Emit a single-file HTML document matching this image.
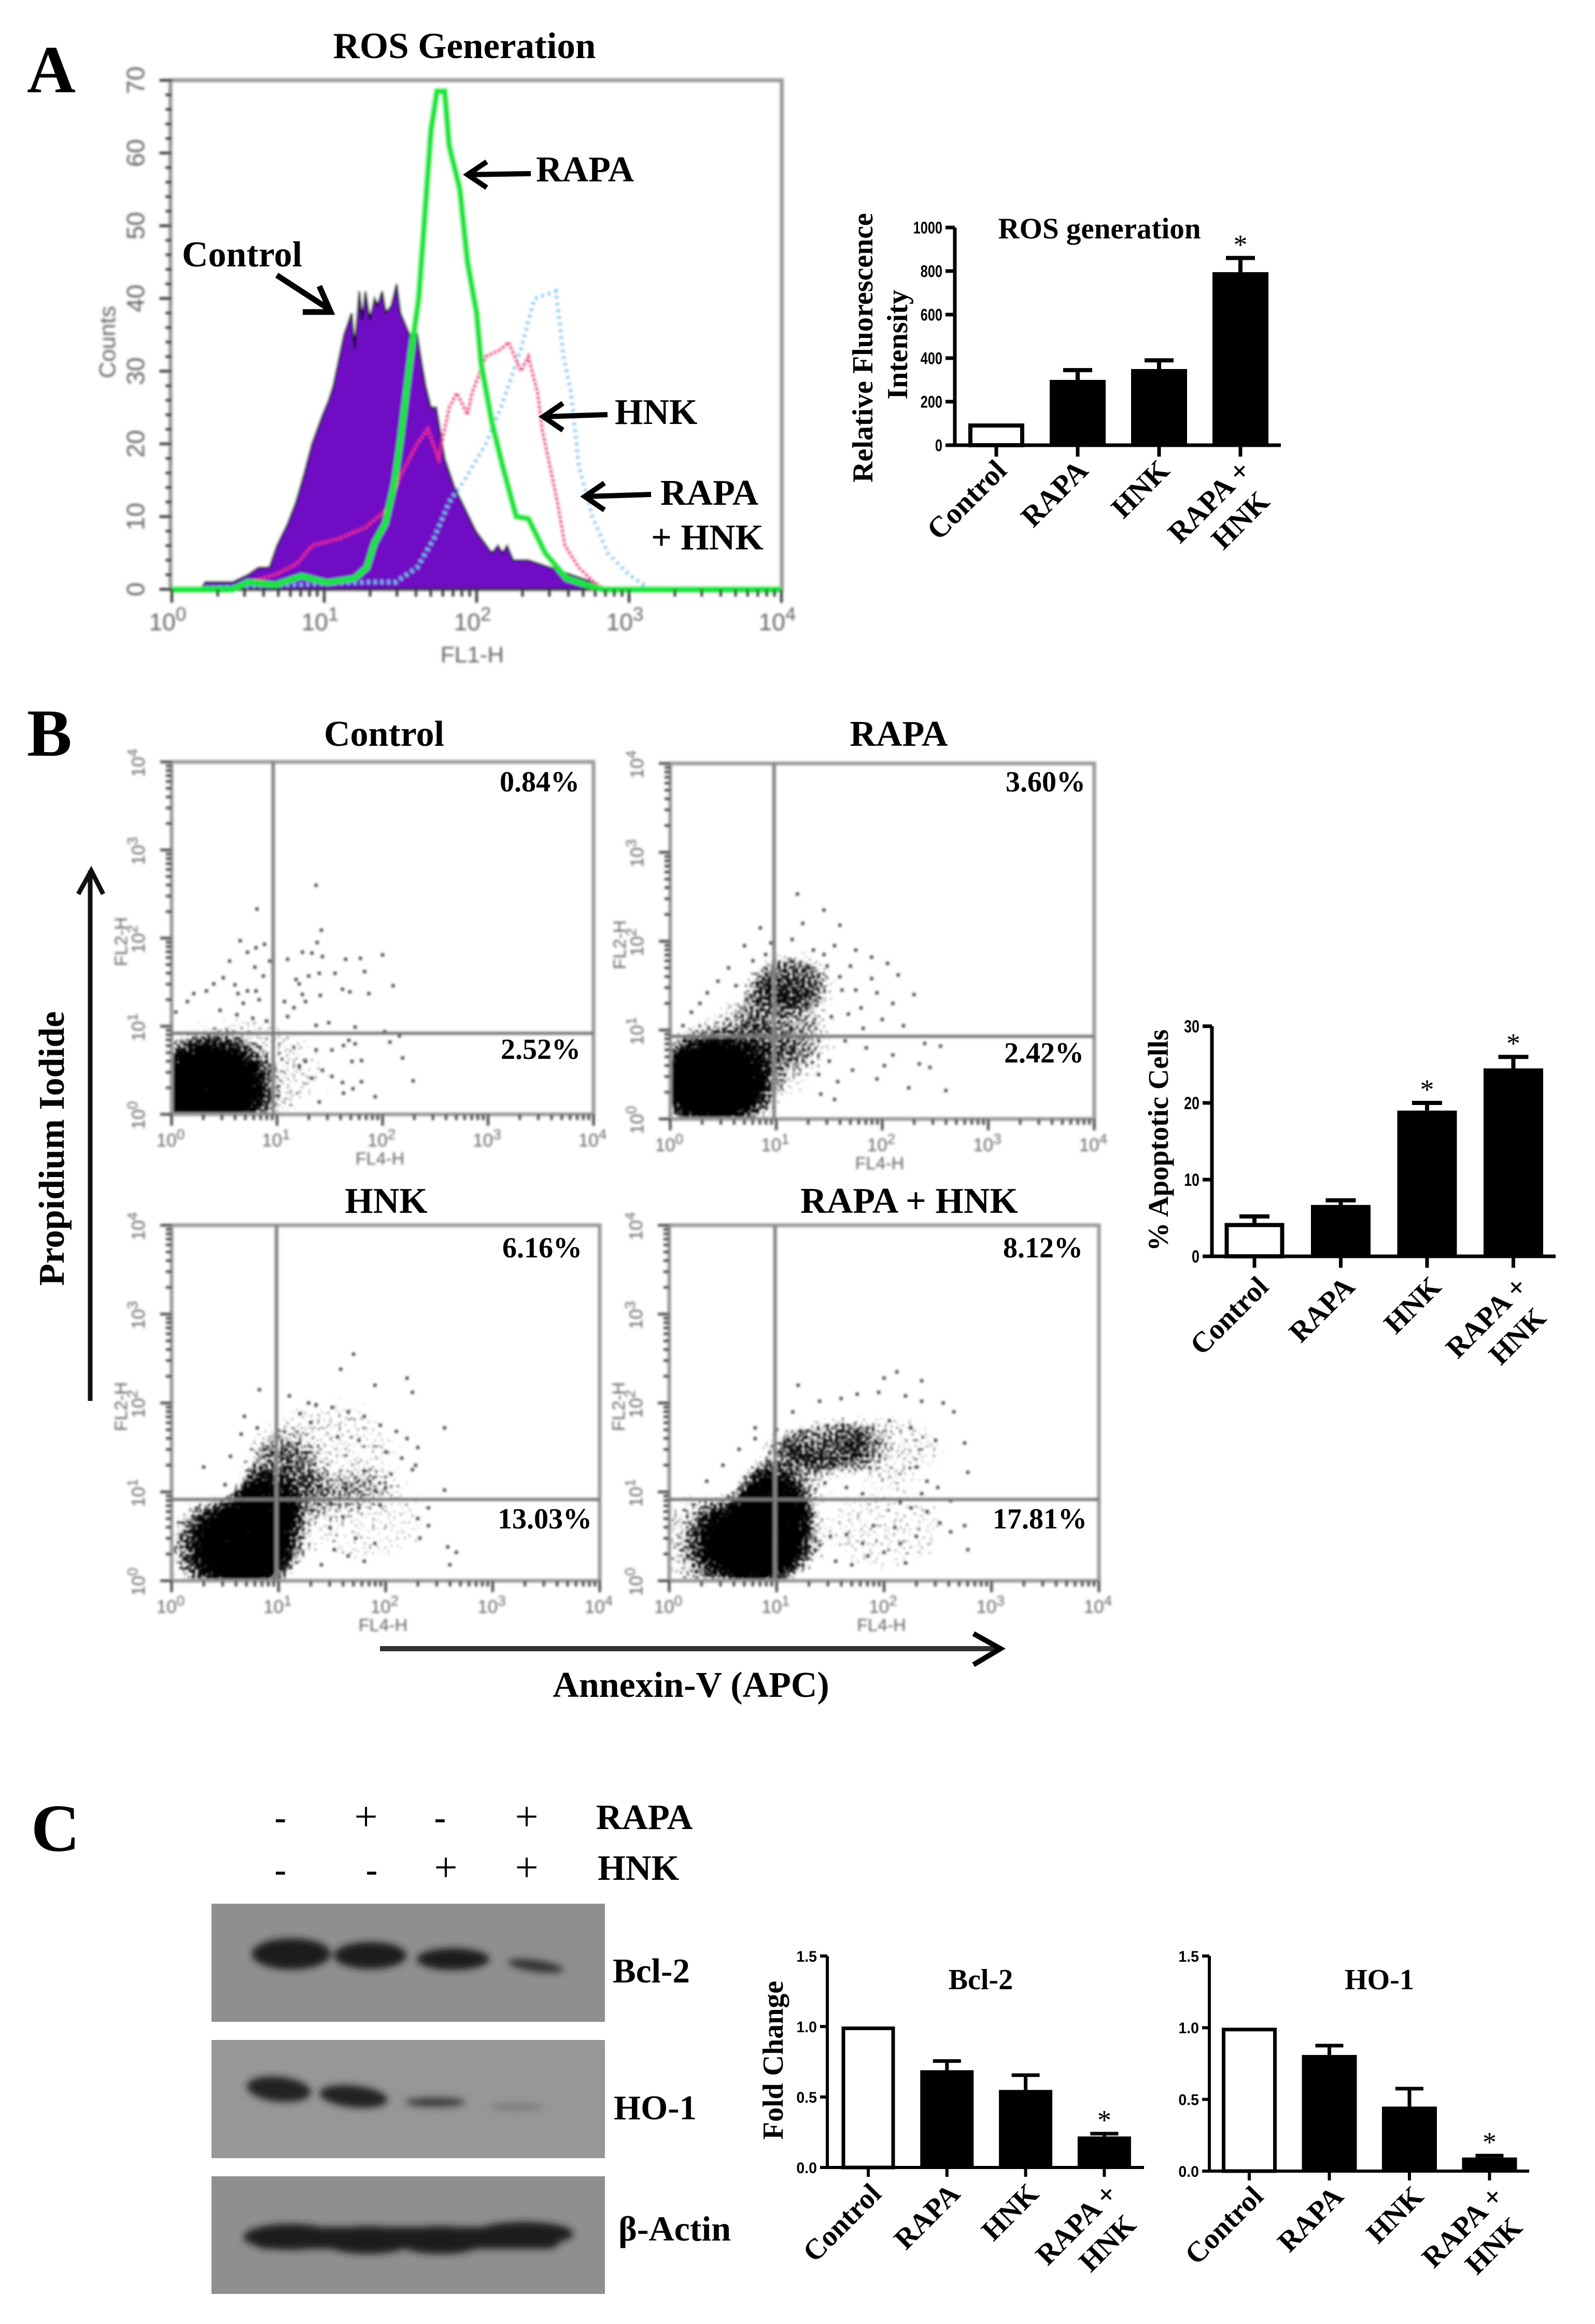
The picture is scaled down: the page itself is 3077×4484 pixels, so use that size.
<!DOCTYPE html>
<html lang="en">
<head>
<meta charset="utf-8">
<title>ROS generation, apoptosis and Bcl-2 / HO-1 expression</title>
<style>
html,body{margin:0;padding:0;background:#fff;}
svg{display:block;}
text{font-family:"Liberation Serif",serif;font-weight:bold;fill:#000;}
.sans{font-family:"Liberation Sans",sans-serif;}
.flowtick{font-family:"Liberation Sans",sans-serif;font-weight:normal;fill:#626262;}
</style>
</head>
<body>
<svg id="figure" xmlns="http://www.w3.org/2000/svg" width="3077" height="4484" viewBox="0 0 3077 4484">
<defs>
<filter id="soft" filterUnits="userSpaceOnUse" x="0" y="0" width="3077" height="4484"><feGaussianBlur stdDeviation="2.4"/></filter>
<filter id="bandblur" filterUnits="userSpaceOnUse" x="0" y="3600" width="1300" height="884"><feGaussianBlur stdDeviation="7"/></filter>
<filter id="speckle" color-interpolation-filters="sRGB">
<feTurbulence type="fractalNoise" baseFrequency="0.17" numOctaves="1" seed="4" result="n"/>
<feComposite in="SourceGraphic" in2="n" operator="arithmetic" k1="0" k2="4" k3="4" k4="-4" result="a"/>
<feFlood flood-color="#000" result="f"/>
<feComposite in="f" in2="a" operator="in"/>
</filter>
<radialGradient id="cloud"><stop offset="0" stop-color="#000" stop-opacity="1"/><stop offset="0.5" stop-color="#000" stop-opacity="1"/><stop offset="1" stop-color="#000" stop-opacity="0"/></radialGradient>
</defs>
<rect width="3077" height="4484" fill="#fff"/>

<!-- Panel letters -->
<text x="52" y="178" font-size="130">A</text>
<text x="52" y="1458" font-size="130">B</text>
<text x="60" y="3571" font-size="130">C</text>

<!-- Panel A -->
<text x="896" y="112" font-size="71" text-anchor="middle">ROS Generation</text>
<g id="histogram"></g>
<g transform="translate(-6 -4)">
<text x="357" y="518" font-size="70">Control</text>
<path d="M540 535 L640 600 M590 606 L644 606 L622 556" fill="none" stroke="#000" stroke-width="11"/>
<text x="1040" y="354" font-size="70">RAPA</text>
<path d="M1030 339 L910 341 M945 316 L908 341 L945 366" fill="none" stroke="#000" stroke-width="10"/>
<text x="1192" y="822" font-size="70">HNK</text>
<path d="M1178 804 L1056 808 M1092 782 L1054 808 L1092 834" fill="none" stroke="#000" stroke-width="10"/>
<text x="1280" y="978" font-size="70">RAPA</text>
<text x="1262" y="1064" font-size="70">+ HNK</text>
<path d="M1262 958 L1136 962 M1172 936 L1134 962 L1172 988" fill="none" stroke="#000" stroke-width="10"/>
</g>
<g id="ros-bars"></g>
<text x="2121" y="460" font-size="57" text-anchor="middle">ROS generation</text>
<text transform="translate(1683 671) rotate(-90)" font-size="56" text-anchor="middle">Relative Fluorescence</text>
<text transform="translate(1750 665) rotate(-90)" font-size="56" text-anchor="middle">Intensity</text>

<!-- Panel B -->
<text x="741" y="1439" font-size="70" text-anchor="middle">Control</text>
<text x="1734" y="1439" font-size="70" text-anchor="middle">RAPA</text>
<text x="745" y="2340" font-size="70" text-anchor="middle">HNK</text>
<text x="1754" y="2340" font-size="70" text-anchor="middle">RAPA + HNK</text>
<g id="dotplots"></g>
<text x="964" y="1527" font-size="56">0.84%</text>
<text x="966" y="2043" font-size="56">2.52%</text>
<text x="1940" y="1527" font-size="56">3.60%</text>
<text x="1937" y="2050" font-size="56">2.42%</text>
<text x="969" y="2426" font-size="56">6.16%</text>
<text x="960" y="2949" font-size="56">13.03%</text>
<text x="1935" y="2426" font-size="56">8.12%</text>
<text x="1915" y="2949" font-size="56">17.81%</text>
<text transform="translate(123 2216) rotate(-90)" font-size="70" text-anchor="middle">Propidium Iodide</text>
<path d="M174 2703 L174 1680 M151 1725 L176 1680 L199 1725" fill="none" stroke="#111" stroke-width="9"/>
<path d="M733 3181 L1922 3181" fill="none" stroke="#333" stroke-width="10"/>
<path d="M1878 3152 L1930 3181 L1878 3212" fill="none" stroke="#000" stroke-width="10"/>
<text x="1333" y="3274" font-size="70" text-anchor="middle">Annexin-V (APC)</text>
<g id="apoptosis-bars"></g>
<text transform="translate(2253 2200) rotate(-90)" font-size="55" text-anchor="middle">% Apoptotic Cells</text>

<!-- Panel C blots -->
<g font-size="68">
<text x="541" y="3529" text-anchor="middle">-</text>
<text style="font-weight:normal;font-size:80px" x="706" y="3532" text-anchor="middle">+</text>
<text x="849" y="3529" text-anchor="middle">-</text>
<text style="font-weight:normal;font-size:80px" x="1016" y="3532" text-anchor="middle">+</text>
<text x="541" y="3630" text-anchor="middle">-</text>
<text x="717" y="3630" text-anchor="middle">-</text>
<text style="font-weight:normal;font-size:80px" x="860" y="3630" text-anchor="middle">+</text>
<text style="font-weight:normal;font-size:80px" x="1016" y="3630" text-anchor="middle">+</text>
<text x="1150" y="3529" style="font-size:69px">RAPA</text>
<text x="1153" y="3627" style="font-size:69px">HNK</text>
</g>
<g>
<rect x="408" y="3673" width="759" height="228" fill="#8f8f8f"/>
<g filter="url(#bandblur)" fill="#1d1d1d">
<ellipse cx="562" cy="3770" rx="76" ry="30"/>
<ellipse cx="714" cy="3773" rx="70" ry="26"/>
<ellipse cx="874" cy="3780" rx="70" ry="21"/>
<ellipse cx="1033" cy="3793" rx="54" ry="11" fill="#333" transform="rotate(8 1033 3793)"/>
</g>
<rect x="408" y="3936" width="759" height="228" fill="#979797"/>
<g filter="url(#bandblur)" fill="#222">
<ellipse cx="538" cy="4031" rx="62" ry="24" transform="rotate(6 538 4031)"/>
<ellipse cx="682" cy="4045" rx="66" ry="21" transform="rotate(6 682 4045)"/>
<ellipse cx="840" cy="4056" rx="58" ry="9" fill="#3a3a3a"/>
<ellipse cx="997" cy="4065" rx="52" ry="6" fill="#777"/>
</g>
<rect x="408" y="4199" width="759" height="227" fill="#8f8f8f"/>
<g filter="url(#bandblur)" fill="#1c1c1c">
<rect x="490" y="4297" width="590" height="42" rx="21"/>
<ellipse cx="560" cy="4316" rx="90" ry="25"/>
<ellipse cx="710" cy="4322" rx="88" ry="27"/>
<ellipse cx="850" cy="4322" rx="88" ry="27"/>
<ellipse cx="1010" cy="4310" rx="96" ry="23"/>
</g>
<text x="1182" y="3825" font-size="67">Bcl-2</text>
<text x="1184" y="4089" font-size="67">HO-1</text>
<text x="1193" y="4323" font-size="68" style="font-family:'Liberation Serif','DejaVu Serif',serif">β-Actin</text>
</g>
<g id="bcl2-bars"></g>
<g id="ho1-bars"></g>
<text x="1892" y="3838" font-size="56" text-anchor="middle">Bcl-2</text>
<text x="2661" y="3838" font-size="56" text-anchor="middle">HO-1</text>
<text transform="translate(1510 3975) rotate(-90)" font-size="56" text-anchor="middle">Fold Change</text>
</svg>

<script>
/* ---------- Panel A histogram data: log10(FL1-H) and counts ---------- */
const controlLogFl1 = [0,0.19,0.22,0.3,0.4,0.5,0.57,0.64,0.69,0.76,0.815,0.87,0.92,0.99,1.03,1.06,1.1,1.13,1.18,1.2,1.23,1.25,1.27,1.3,1.33,1.35,1.38,1.405,1.44,1.475,1.5,1.54,1.58,1.61,1.64,1.665,1.7,1.735,1.79,1.855,1.925,1.995,2.1,2.14,2.17,2.2,2.24,2.34,2.48,2.62,2.76,2.83,4];
const controlCounts = [0,0,1,1,1,2,3,3,6,9,12,16,20,24,26,28,32,35,38,33,41,37,41,37,40,39,41,38,39,42,38,36,34,35,31,28,25,25,18,14,11,8,5,6,5,6,4,4,3,2,1,0,0];
const rapaLogFl1 = [0,0.4,0.5,0.68,0.85,1.02,1.2,1.28,1.33,1.4,1.46,1.5,1.57,1.62,1.65,1.7,1.74,1.79,1.82,1.89,1.94,2.0,2.03,2.1,2.17,2.26,2.34,2.45,2.59,2.75,2.83,4];
const rapaCounts = [0,0,1,0.6,1.8,0.9,1.5,3,6.4,9,14.5,20.5,32.5,40,48.5,63,68.5,68.5,61,55,45,38,31,23,17,10,9.7,5,1.5,0.4,0,0];
const hnkLogFl1 = [0,0.4,0.5,0.68,0.82,0.92,1.1,1.27,1.41,1.51,1.61,1.68,1.75,1.82,1.87,1.94,1.97,2.06,2.16,2.21,2.29,2.34,2.4,2.43,2.48,2.53,2.58,2.67,2.77,2.84,4];
const hnkCounts = [0,0,1,2,3.5,6,7,8.5,11,16,20,22,18,25,27,24,27,32,33,34,30,32,27,22,17,12,6,3,1,0,0];
const comboLogFl1 = [0,1.3,1.47,1.61,1.72,1.82,1.92,2.06,2.16,2.29,2.38,2.52,2.57,2.62,2.67,2.76,2.86,3.0,3.14,4];
const comboCounts = [0,1,1,3,7,12,15,20,25,33,40,41,32,27,17,10,5,2,0,0];
const histogramCountTicks = [0,10,20,30,40,50,60,70];
const histogramDecades = [0,1,2,3,4];

/* ---------- Bar chart data ---------- */
const rosCategories = ['Control','RAPA','HNK','RAPA +|HNK'];
const rosValues = [100,300,350,795];
const rosErrorTops = [100,345,390,860];
const rosTicks = [0,200,400,600,800,1000];
const rosStars = [false,false,false,true];

const apoptosisCategories = ['Control','RAPA','HNK','RAPA +|HNK'];
const apoptosisValues = [4.35,6.7,19,24.5];
const apoptosisErrorTops = [5.2,7.3,20,26];
const apoptosisTicks = [0,10,20,30];
const apoptosisStars = [false,false,true,true];

const bcl2Categories = ['Control','RAPA','HNK','RAPA +|HNK'];
const bcl2Values = [1,0.69,0.55,0.22];
const bcl2ErrorTops = [1,0.755,0.655,0.24];
const bcl2Ticks = [0,0.5,1,1.5];
const bcl2Stars = [false,false,false,true];

const ho1Categories = ['Control','RAPA','HNK','RAPA +|HNK'];
const ho1Values = [1,0.81,0.45,0.095];
const ho1ErrorTops = [1,0.875,0.575,0.108];
const ho1Ticks = [0,0.5,1,1.5];
const ho1Stars = [false,false,false,true];

/* ---------- Dot plot data, all in log10 units of FL4-H (x) and FL2-H (y) ---------- */
/* clusters: [centre x, centre y, spread x, spread y, relative density] */
const dotDecades = [0,1,2,3,4];
const controlClusters = [[0.36,0.3,0.72,0.72,1],[0.7,0.5,1.15,0.95,0.44]];
const controlEventsX = [1.37,0.81,1.42,0.65,1.38,0.88,0.8,0.72,0.55,1.1,1.24,1.33,1.43,1.65,1.79,2.0,1.83,2.1,1.69,1.87,1.62,1.55,1.4,1.18,1.21,1.3,1.41,1.24,1.07,1.27,1.16,1.1,1.49,1.37,1.74,2.02,2.16,2.07,1.68,1.74,1.63,1.52,1.37,2.19,1.8,1.71,2.29,1.8,1.72,1.93,1.63,1.4,1.27,1.43,1.52,1.62,1.33,1.21,0.49,0.4,0.33,0.21,0.15,0.04,0.6,0.63,0.72,0.79,0.87,0.93,0.96,0.8,0.83,0.68,0.46,0.62,0.77,0.9];
const controlEventsY = [2.6,2.33,2.09,1.97,1.95,1.93,1.89,1.84,1.74,1.76,1.84,1.83,1.79,1.76,1.77,1.81,1.62,1.46,1.39,1.37,1.42,1.6,1.6,1.53,1.48,1.57,1.35,1.36,1.28,1.28,1.21,1.11,1.04,1.01,0.99,0.94,0.89,0.82,0.84,0.8,0.78,0.73,0.73,0.64,0.61,0.6,0.38,0.37,0.29,0.2,0.24,0.14,0.6,0.5,0.43,0.36,0.41,0.55,1.55,1.48,1.4,1.37,1.28,1.16,1.47,1.37,1.4,1.67,1.57,1.74,1.64,1.4,1.3,1.26,1.18,1.13,1.09,1.06];

const rapaClusters = [[0.4,0.42,0.7,0.68,1],[0.62,0.6,1.0,1.0,0.4],[1.12,1.55,0.5,0.42,0.48],[1.05,1.1,0.6,0.72,0.3],[1.3,1.2,1.0,1.0,0.26]];
const rapaEventsX = [1.2,1.45,1.25,1.6,0.85,0.7,0.95,1.55,1.75,1.9,2.05,2.15,1.9,1.7,1.6,1.45,1.75,1.95,2.1,2.3,0.55,0.45,0.35,0.62,0.78,0.9,1.35,1.48,1.62,1.8,2.0,2.2,2.4,2.35,2.1,1.85,1.65,1.5,1.4,1.3,1.58,1.72,1.95,2.25,2.45,2.6,1.42,1.55,0.2,0.12,0.28,1.15,1.3,1.68,1.82,2.02,1.52,1.38,2.55,0.72,1.05,0.95,1.25,1.35];
const rapaEventsY = [2.53,2.35,2.2,2.18,2.15,1.95,1.98,1.95,1.9,1.82,1.75,1.62,1.58,1.72,1.6,1.85,1.45,1.42,1.3,1.4,1.7,1.55,1.42,1.5,1.78,1.85,1.9,1.72,1.45,1.25,1.12,1.05,0.85,0.62,0.72,0.8,0.88,0.65,0.5,0.72,0.42,0.55,0.45,0.35,0.58,0.32,0.28,0.22,1.2,1.05,1.3,2.02,1.72,1.18,1.02,0.6,1.15,1.28,0.82,1.35,1.62,1.28,1.42,1.08];

const hnkClusters = [[0.68,0.39,0.68,0.68,1],[0.86,0.8,0.4,0.52,0.85],[1.0,1.1,0.52,0.72,0.42],[1.46,1.47,1.0,0.85,0.42],[1.8,0.65,0.95,0.7,0.39],[0.3,0.4,0.56,0.78,0.46]];
const hnkEventsX = [1.7,1.58,1.9,2.2,2.25,2.55,1.28,1.35,1.5,1.65,1.8,1.95,2.1,2.2,2.3,2.28,2.05,1.85,1.6,1.4,1.2,2.55,0.82,0.65,0.55,0.3,0.5,0.68,0.8,1.1,2.0,2.15,2.25,2.1,1.95,2.3,2.58,2.66,2.6,2.4,2.32,1.52,1.65,1.8,1.72,1.9,1.4,1.48,1.6,1.75,2.4,1.9,1.3,1.55,1.75,2.0];
const hnkEventsY = [2.55,2.38,2.2,2.28,2.12,1.72,2.0,1.98,1.95,1.9,1.85,1.75,1.68,1.6,1.5,1.3,1.2,1.12,1.05,1.15,1.88,1.02,2.15,1.65,1.4,1.28,1.08,1.85,1.72,2.08,1.45,1.38,1.25,0.92,0.85,0.7,0.38,0.32,0.18,0.62,0.48,0.35,0.28,0.22,0.48,0.42,0.18,0.6,0.72,0.82,0.82,1.02,1.78,1.62,1.58,1.05];

const comboClusters = [[0.8,0.43,0.72,0.68,1],[0.95,0.84,0.44,0.56,0.88],[1.1,1.15,0.55,0.65,0.44],[1.45,1.52,0.66,0.42,0.52],[2.05,1.5,0.78,0.55,0.43],[2.0,0.58,0.92,0.72,0.4],[0.25,0.45,0.55,0.8,0.48]];
const comboEventsX = [2.12,2.0,2.35,1.95,1.4,1.6,1.75,2.2,2.35,2.55,2.65,2.75,2.78,2.48,2.25,2.05,1.85,2.3,2.4,2.5,1.15,1.0,0.8,0.65,0.5,0.35,0.55,0.8,1.3,1.45,1.65,1.8,2.0,2.15,2.25,2.4,2.52,2.62,2.3,2.15,2.0,1.85,1.7,1.55,1.9,2.1,2.2,1.65,1.8,1.4,1.5,2.75,2.78,1.2,2.62,2.35];
const comboEventsY = [2.35,2.28,2.25,2.12,2.02,2.05,2.1,2.08,2.02,2.0,1.9,1.55,1.22,1.58,1.72,1.8,1.72,1.28,1.12,1.05,1.9,1.7,1.6,1.48,1.3,1.12,0.95,1.72,1.25,1.1,1.05,0.98,0.92,0.88,0.82,0.78,0.65,0.55,0.5,0.42,0.32,0.28,0.18,0.22,0.62,0.6,0.2,0.52,0.42,0.4,0.5,0.62,0.35,2.2,0.9,0.98];

/* ---------- Drawing helpers ---------- */
const NS = 'http://www.w3.org/2000/svg';
function mk(tag, attrs, parent, txt) {
  const el = document.createElementNS(NS, tag);
  for (const k in attrs) el.setAttribute(k, attrs[k]);
  if (txt !== undefined) el.textContent = txt;
  parent.appendChild(el);
  return el;
}
function slug(s) { return s.replace(/[^A-Za-z0-9]+/g, '-').replace(/-$/, '').toLowerCase(); }

function logTicksPath(x0, x1, y0, y1) {
  let d = '';
  const w = (x1 - x0) / 4, h = (y1 - y0) / 4;
  for (let dec = 0; dec < 4; dec++) {
    for (let k = 1; k < 10; k++) {
      const len = k === 1 ? 22 : 11;
      const px = x0 + (dec + Math.log10(k)) * w;
      const py = y1 - (dec + Math.log10(k)) * h;
      d += 'M' + px + ' ' + y1 + 'V' + (y1 + len);
      d += 'M' + x0 + ' ' + py + 'H' + (x0 - len);
    }
  }
  d += 'M' + x1 + ' ' + y1 + 'V' + (y1 + 22) + 'M' + x0 + ' ' + y0 + 'H' + (x0 - 22);
  return d;
}
function decadeLabel(parent, x, y, power, size, rotated) {
  const attrs = { 'class': 'flowtick', 'font-size': size, 'text-anchor': 'middle' };
  if (rotated) attrs.transform = 'translate(' + x + ' ' + y + ') rotate(-90)';
  else { attrs.x = x; attrs.y = y; }
  const t = mk('text', attrs, parent);
  
  
  const base = mk('tspan', {}, t, '10');
  
  
  const sup = mk('tspan', { dy: -size * 0.4, 'font-size': size * 0.8 }, t, String(power));
  
  
}

/* ---------- Histogram ---------- */
(function drawHistogram() {
  const g = document.getElementById('histogram');
  const soft = mk('g', { filter: 'url(#soft)' }, g);
  
  
  const x0 = 331.5, x1 = 1507.5, yBase = 1137, yTop = 155, yMax = 70;
  const sx = v => x0 + v * (x1 - x0) / 4;
  const sy = c => yBase - c * (yBase - yTop) / yMax;
  const linePts = (xs, ys) => xs.map((v, i) => sx(v).toFixed(1) + ',' + sy(ys[i]).toFixed(1)).join(' ');

  const frame = mk('rect', { x: 329, y: 155, width: 1179, height: 982, fill: '#fff', stroke: '#9a9a9a', 'stroke-width': 8 }, soft);
  
  

  const control = mk('polygon', { points: linePts(controlLogFl1, controlCounts), fill: '#7010c4', stroke: '#111', 'stroke-width': 4 }, soft);
  
  
  const combo = mk('polyline', { points: linePts(comboLogFl1, comboCounts), fill: 'none', stroke: '#6cc4f4', 'stroke-width': 8, 'stroke-dasharray': '5 8' }, soft);
  
  
  const hnk = mk('polyline', { points: linePts(hnkLogFl1, hnkCounts), fill: 'none', stroke: '#f0268a', 'stroke-width': 7, 'stroke-dasharray': '6 3' }, soft);
  
  
  const rapa = mk('polyline', { points: linePts(rapaLogFl1, rapaCounts), fill: 'none', stroke: '#18e63e', 'stroke-width': 12 }, soft);
  
  

  let minor = '';
  for (let c = 0; c <= yMax; c += 2) minor += 'M' + x0 + ' ' + sy(c) + 'H' + (x0 - (c % 10 === 0 ? 24 : 12));
  for (const dec of histogramDecades) {
    if (dec === 4) { minor += 'M' + sx(4) + ' ' + yBase + 'V' + (yBase + 26); continue; }
    for (let k = 1; k < 10; k++) {
      const px = sx(dec + Math.log10(k));
      minor += 'M' + px + ' ' + yBase + 'V' + (yBase + (k === 1 ? 26 : 14));
    }
  }
  const ticks = mk('path', { d: minor, stroke: '#333', 'stroke-width': 5, fill: 'none' }, soft);
  
  

  for (const c of histogramCountTicks) {
    const t = mk('text', { 'class': 'flowtick', 'font-size': 48, 'text-anchor': 'middle', transform: 'translate(278 ' + sy(c) + ') rotate(-90)' }, soft, String(c));
    
    
  }
  for (const dec of histogramDecades) decadeLabel(soft, sx(dec) - 8, 1216, dec, 46, false);
  const xt = mk('text', { 'class': 'flowtick', 'font-size': 44, 'text-anchor': 'middle', x: 911, y: 1278 }, soft, 'FL1-H');
  
  
  const yt = mk('text', { 'class': 'flowtick', 'font-size': 44, 'text-anchor': 'middle', transform: 'translate(222 660) rotate(-90)' }, soft, 'Counts');
  
  
})();

/* ---------- Dot plots ---------- */
let clipCount = 0;
function drawDotPlot(key, box, gateX, gateY, clusters, eventsX, eventsY) {
  const root = document.getElementById('dotplots');
  const g = mk('g', { filter: 'url(#soft)' }, root);
  
  
  const sx = v => box.x0 + v * (box.x1 - box.x0) / 4;
  const sy = v => box.y1 - v * (box.y1 - box.y0) / 4;
  const id = 'clip' + (clipCount++);
  const cp = mk('clipPath', { id: id }, g);
  
  
  const cr = mk('rect', { x: box.x0, y: box.y0, width: box.x1 - box.x0, height: box.y1 - box.y0 }, cp);
  
  

  const marks = mk('g', { 'clip-path': 'url(#' + id + ')' }, g);
  
  
  const cloudGroup = mk('g', { filter: 'url(#speckle)' }, marks);
  
  
  for (const c of clusters) {
    const e = mk('ellipse', {
      cx: sx(c[0]), cy: sy(c[1]),
      rx: c[2] * (box.x1 - box.x0) / 4, ry: c[3] * (box.y1 - box.y0) / 4,
      fill: 'url(#cloud)', opacity: c[4]
    }, cloudGroup);
    
    
  }
  eventsX.forEach((v, i) => {
    const r = mk('rect', { x: sx(v) - 3, y: sy(eventsY[i]) - 3, width: 6, height: 6, fill: '#333' }, marks);
    
    
  });

  const frame = mk('rect', { x: box.x0, y: box.y0, width: box.x1 - box.x0, height: box.y1 - box.y0, fill: 'none', stroke: '#999', 'stroke-width': 7 }, g);
  
  
  const gv = mk('line', { x1: sx(gateX), x2: sx(gateX), y1: box.y0, y2: box.y1, stroke: '#858585', 'stroke-width': 7 }, g);
  
  
  const gh = mk('line', { x1: box.x0, x2: box.x1, y1: sy(gateY), y2: sy(gateY), stroke: '#777', 'stroke-width': 6 }, g);
  
  
  const ticks = mk('path', { d: logTicksPath(box.x0, box.x1, box.y0, box.y1), stroke: '#444', 'stroke-width': 5, fill: 'none' }, g);
  
  

  for (const dec of dotDecades) {
    decadeLabel(g, sx(dec) - 2, box.y1 + 62, dec, 35, false);
    decadeLabel(g, box.x0 - 52, sy(dec) + 2, dec, 35, true);
  }
  const xt = mk('text', { 'class': 'flowtick', 'font-size': 34, 'text-anchor': 'middle', x: (box.x0 + box.x1) / 2 - 5, y: box.y1 + 97 }, g, 'FL4-H');
  
  
  const yt = mk('text', { 'class': 'flowtick', 'font-size': 34, 'text-anchor': 'middle', transform: 'translate(' + (box.x0 - 86) + ' ' + (box.y1 - (box.y1 - box.y0) * 0.49) + ') rotate(-90)' }, g, 'FL2-H');
  
  
}
drawDotPlot('control', { x0: 331, x1: 1145, y0: 1470, y1: 2150 }, 0.963, 0.92, controlClusters, controlEventsX, controlEventsY);
drawDotPlot('rapa', { x0: 1293, x1: 2111, y0: 1473, y1: 2159 }, 0.98, 0.93, rapaClusters, rapaEventsX, rapaEventsY);
drawDotPlot('hnk', { x0: 331, x1: 1157, y0: 2364, y1: 3050 }, 0.98, 0.915, hnkClusters, hnkEventsX, hnkEventsY);
drawDotPlot('rapa-hnk', { x0: 1291, x1: 2120, y0: 2364, y1: 3050 }, 0.985, 0.915, comboClusters, comboEventsX, comboEventsY);

/* ---------- Bar charts ---------- */
function drawBars(id, key, geo, categories, values, errorTops, ticks, stars, tickFormat) {
  const g = document.getElementById(id);
  const sy = v => geo.y0 - v * (geo.y0 - geo.yTop) / geo.yMax;
  const cx = i => geo.firstCenter + i * geo.step;

  categories.forEach((cat, i) => {
    const top = sy(values[i]);
    const open = i === 0;
    const inset = open ? geo.stroke / 2 : 0;
    const b = mk('rect', {
      x: cx(i) - geo.barW / 2 + inset, y: top + inset,
      width: geo.barW - inset * 2, height: geo.y0 - top - inset,
      fill: open ? '#fff' : '#000', stroke: open ? '#000' : 'none', 'stroke-width': open ? geo.stroke : 0
    }, g);
    
    
    if (errorTops[i] > values[i]) {
      const capY = sy(errorTops[i]);
      const e = mk('path', {
        d: 'M' + cx(i) + ' ' + top + 'V' + capY + 'M' + (cx(i) - geo.capW / 2) + ' ' + capY + 'H' + (cx(i) + geo.capW / 2),
        stroke: '#000', 'stroke-width': geo.stroke, fill: 'none'
      }, g);
      
      
    }
    if (stars[i]) {
      const s = mk('text', { x: cx(i), y: sy(errorTops[i]) - 8, 'font-size': 54, 'text-anchor': 'middle', style: 'font-weight:normal' }, g, '*');
      
      
    }
    cat.split('|').forEach((line, n) => {
      const ax = cx(i) + geo.labelDx + n * 36;
      const ay = geo.y0 + geo.labelDy + n * 60;
      const t = mk('text', {
        'font-size': geo.labelSize, 'text-anchor': 'end',
        transform: 'translate(' + ax + ' ' + ay + ') rotate(-45)'
      }, g, line);
      
      
    });
  });

  let d = 'M' + geo.axisX + ' ' + geo.yTop + 'V' + geo.y0 + 'M' + (geo.axisX - geo.tick) + ' ' + geo.y0 + 'H' + geo.xEnd;
  for (const v of ticks) d += 'M' + (geo.axisX - geo.tick) + ' ' + sy(v) + 'H' + geo.axisX;
  categories.forEach((cat, i) => { d += 'M' + cx(i) + ' ' + geo.y0 + 'V' + (geo.y0 + geo.tick + 4); });
  const axes = mk('path', { d: d, stroke: '#000', 'stroke-width': geo.stroke - 1, fill: 'none' }, g);
  
  

  for (const v of ticks) {
    const label = tickFormat(v);
    const t = mk('text', {
      'class': 'sans', x: geo.axisX - geo.tick - 6, y: sy(v) + geo.tickSize * 0.36,
      'font-size': geo.tickSize, 'text-anchor': 'end',
      textLength: label.length * geo.tickSize * 0.44, lengthAdjust: 'spacingAndGlyphs'
    }, g, label);
    
    
  }
}
const plainTick = v => String(v);
const oneDecimal = v => v.toFixed(1);
drawBars('ros-bars', 'ros',
  { axisX: 1842, xEnd: 2471, y0: 859, yTop: 439, yMax: 1000, firstCenter: 1922, step: 157, barW: 108, capW: 56, stroke: 8, tick: 18, tickSize: 32, labelDx: 23, labelDy: 52, labelSize: 57 },
  rosCategories, rosValues, rosErrorTops, rosTicks, rosStars, plainTick);
drawBars('apoptosis-bars', 'apoptosis',
  { axisX: 2338, xEnd: 3001, y0: 2424, yTop: 1980, yMax: 30, firstCenter: 2420, step: 166.5, barW: 115, capW: 58, stroke: 8, tick: 18, tickSize: 34, labelDx: 30, labelDy: 62, labelSize: 56 },
  apoptosisCategories, apoptosisValues, apoptosisErrorTops, apoptosisTicks, apoptosisStars, plainTick);
drawBars('bcl2-bars', 'bcl2',
  { axisX: 1596, xEnd: 2207, y0: 4182, yTop: 3774, yMax: 1.5, firstCenter: 1675, step: 151.8, barW: 103, capW: 54, stroke: 7, tick: 14, tickSize: 30, labelDx: 28, labelDy: 54, labelSize: 56 },
  bcl2Categories, bcl2Values, bcl2ErrorTops, bcl2Ticks, bcl2Stars, oneDecimal);
drawBars('ho1-bars', 'ho1',
  { axisX: 2333, xEnd: 2950, y0: 4189, yTop: 3774, yMax: 1.5, firstCenter: 2410, step: 154.5, barW: 106, capW: 54, stroke: 7, tick: 14, tickSize: 30, labelDx: 30, labelDy: 52, labelSize: 56 },
  ho1Categories, ho1Values, ho1ErrorTops, ho1Ticks, ho1Stars, oneDecimal);
</script>
</body>
</html>
